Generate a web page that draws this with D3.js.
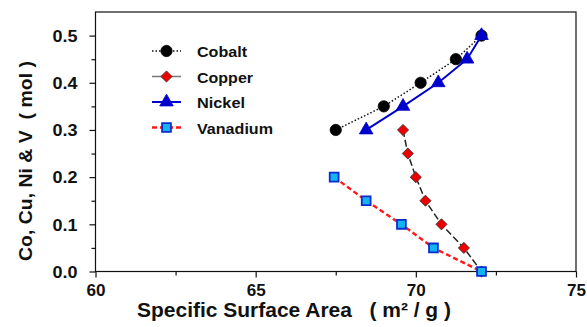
<!DOCTYPE html>
<html>
<head>
<meta charset="utf-8">
<script src="https://cdn.jsdelivr.net/npm/d3@7"></script>
<style>
  body { margin: 0; background: #fff; }
  text { font-family: "Liberation Sans", Arial, sans-serif; font-weight: bold; fill: #111; }
  .title { white-space: pre; }
</style>
</head>
<body>
<div id="chart"></div>
<script>
// data
var cobaltX = [67.5, 69.0, 70.15, 71.25, 72.05]
var cobaltY = [0.30, 0.35, 0.40, 0.45, 0.50]
var copperX = [69.6, 69.75, 70.0, 70.3, 70.8, 71.5, 72.05]
var copperY = [0.30, 0.25, 0.20, 0.15, 0.10, 0.05, 0.0]
var nickelX = [68.45, 69.6, 70.7, 71.6, 72.05]
var nickelY = [0.30, 0.35, 0.40, 0.45, 0.50]
var vanadiumX = [67.45, 68.45, 69.55, 70.55, 72.05]
var vanadiumY = [0.20, 0.15, 0.10, 0.05, 0.0]
var xTicks = [60, 65, 70, 75]
var yTicks = [0.0, 0.1, 0.2, 0.3, 0.4, 0.5]

var width = 587
var height = 327
var margins = { top: 12, right: 11, bottom: 56, left: 95.5 }

var svg = d3.select("#chart")
    .append("svg")
    .attr("width", width)
    .attr("height", height)

var xScale = d3.scaleLinear()
    .domain([60, 75])
    .range([margins.left, width - margins.right])
var yScale = d3.scaleLinear()
    .domain([0, 0.55])
    .range([height - margins.bottom + 0.5, margins.top])

var plotBottom = yScale(0)
var plotTop = yScale(0.55)

// frame
svg.append("rect")
    .attr("x", xScale(60))
    .attr("y", plotTop)
    .attr("width", xScale(75) - xScale(60))
    .attr("height", plotBottom - plotTop)
    .attr("fill", "none")
    .attr("stroke", "#111")
    .attr("stroke-width", 1.2)

// axes: major ticks with labels, minor ticks between
var xaxis = d3.axisBottom(xScale).tickValues(xTicks).tickSize(6).tickFormat(d3.format("d"))
var xminor = d3.axisBottom(xScale).tickValues([62.5, 67.5, 72.5]).tickSize(4).tickFormat("")
var yaxis = d3.axisLeft(yScale).tickValues(yTicks).tickSize(6).tickFormat(d3.format(".1f"))
var yminor = d3.axisLeft(yScale).tickValues([0.05, 0.15, 0.25, 0.35, 0.45]).tickSize(4).tickFormat("")

function styleAxis(g) {
    g.select(".domain").remove()
    g.selectAll("line").attr("stroke", "#111").attr("stroke-width", 1.2)
    g.selectAll("text").attr("font-size", "16px").attr("fill", "#111")
}

svg.append("g").attr("transform", "translate(0," + plotBottom + ")").call(xaxis).call(styleAxis)
    .selectAll("text")
    .attr("y", 24).attr("dy", null)
    .attr("textLength", 19).attr("lengthAdjust", "spacingAndGlyphs")
svg.append("g").attr("transform", "translate(0," + plotBottom + ")").call(xminor).call(styleAxis)
svg.append("g").attr("transform", "translate(" + xScale(60) + ",0)").call(yaxis).call(styleAxis)
    .selectAll("text")
    .attr("x", -18).attr("dy", "0.36em")
    .attr("textLength", 25).attr("lengthAdjust", "spacingAndGlyphs")
svg.append("g").attr("transform", "translate(" + xScale(60) + ",0)").call(yminor).call(styleAxis)

// axis titles
svg.append("text")
    .attr("class", "title")
    .attr("x", 137)
    .attr("y", 317)
    .attr("font-size", "20px")
    .attr("textLength", 314)
    .attr("lengthAdjust", "spacingAndGlyphs")
    .text("Specific Surface Area   ( m² / g )")

svg.append("text")
    .attr("class", "title")
    .attr("transform", "translate(32,161) rotate(-90)")
    .attr("text-anchor", "middle")
    .attr("font-size", "19px")
    .attr("textLength", 200)
    .attr("lengthAdjust", "spacingAndGlyphs")
    .text("Co, Cu, Ni & V  ( mol )")

// series
var series = [
    { name: "Cobalt", xs: cobaltX, ys: cobaltY, line: "#111", width: 1.5, dash: "1.5,2", marker: "circle", fill: "#000", stroke: "#000", legLine: "#111", legDash: "1.5,2", textLen: 50 },
    { name: "Copper", xs: copperX, ys: copperY, line: "#222", width: 1.5, dash: "7,3", marker: "diamond", fill: "#ee0000", stroke: "#333", legLine: "#777", legDash: null, textLen: 56 },
    { name: "Nickel", xs: nickelX, ys: nickelY, line: "#0000cc", width: 2, dash: null, marker: "triangle", fill: "#0000cc", stroke: "#0000cc", legLine: "#0000cc", legDash: null, textLen: 48 },
    { name: "Vanadium", xs: vanadiumX, ys: vanadiumY, line: "#ff1a1a", width: 2.4, dash: "5,3", marker: "square", fill: "#14b4f0", stroke: "#0a2bd0", legLine: "#ff1a1a", legDash: "5,3", textLen: 76 }
]

var symbols = {
    circle: d3.symbol().type(d3.symbolCircle).size(100),
    diamond: d3.symbol().type(d3.symbolSquare).size(62),
    triangle: d3.symbol().type(d3.symbolTriangle).size(80),
    square: d3.symbol().type(d3.symbolSquare).size(78)
}

var line = d3.line()
    .x(d => xScale(d[0]))
    .y(d => yScale(d[1]))

function drawMarker(g, s, x, y) {
    g.append("path")
        .attr("d", symbols[s.marker]())
        .attr("transform", "translate(" + x + "," + y + ")" + (s.marker == "diamond" ? " rotate(45)" : ""))
        .attr("fill", s.fill)
        .attr("stroke", s.stroke)
        .attr("stroke-width", s.marker == "square" ? 1.8 : 0.8)
}

series.forEach(s => {
    var pts = s.xs.map((x, i) => [x, s.ys[i]])
    svg.append("path")
        .datum(pts)
        .attr("d", line)
        .attr("fill", "none")
        .attr("stroke", s.line)
        .attr("stroke-width", s.width)
        .attr("stroke-dasharray", s.dash)
    var g = svg.append("g")
    pts.forEach(p => drawMarker(g, s, xScale(p[0]), yScale(p[1])))
})

// legend
var legendY = [51, 76.5, 102, 127.5]
series.forEach((s, i) => {
    var y = legendY[i]
    svg.append("line")
        .attr("x1", 152).attr("x2", 181)
        .attr("y1", y).attr("y2", y)
        .attr("stroke", s.legLine)
        .attr("stroke-width", s.width)
        .attr("stroke-dasharray", s.legDash)
    drawMarker(svg, s, 166.5, y)
    svg.append("text")
        .attr("x", 197)
        .attr("y", y + 6)
        .attr("font-size", "15.5px")
        .attr("textLength", s.textLen)
        .attr("lengthAdjust", "spacingAndGlyphs")
        .text(s.name)
})
</script>
</body>
</html>
